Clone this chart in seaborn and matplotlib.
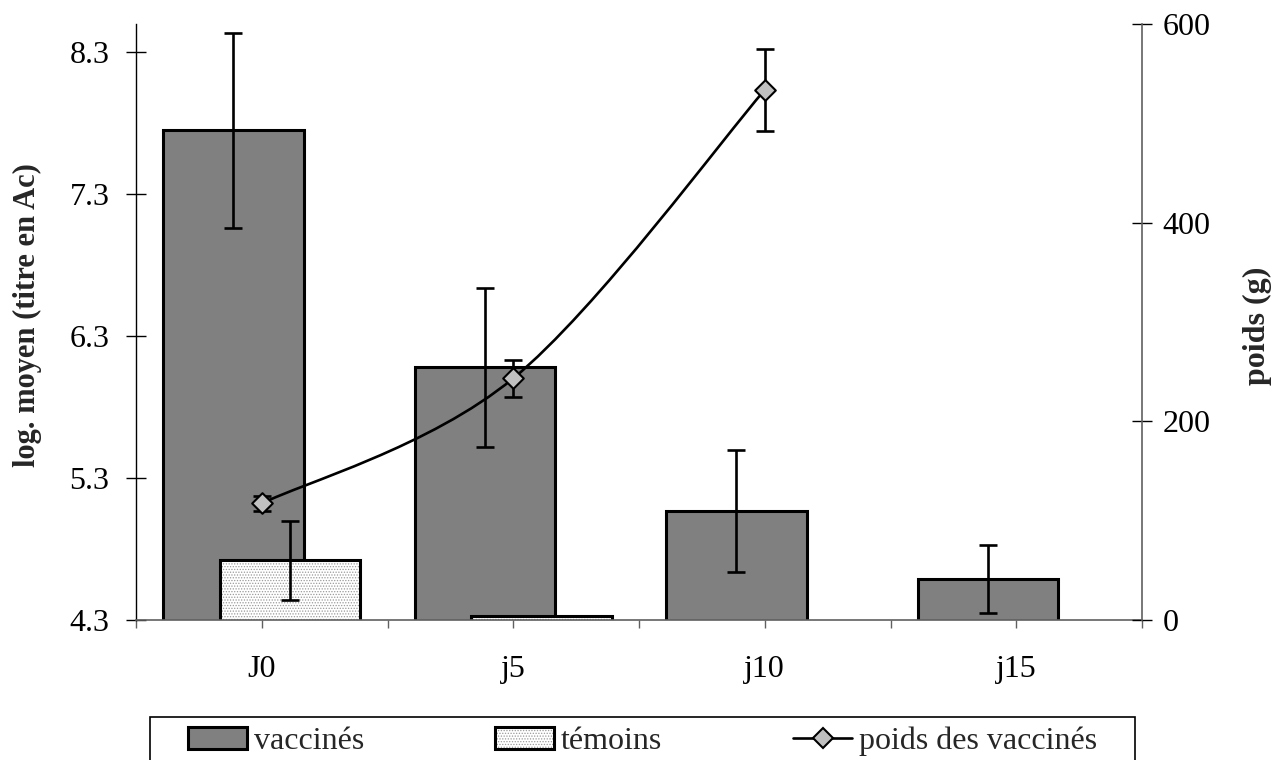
import numpy as np
import pandas as pd
import matplotlib
matplotlib.use("Agg")
import matplotlib.pyplot as plt
import seaborn as sns
from matplotlib.path import Path
from matplotlib.patches import PathPatch, Patch, Rectangle
from matplotlib.lines import Line2D

# ---------------- data ----------------
categories = ["J0", "j5", "j10", "j15"]
vaccines = [7.75, 6.08, 5.07, 4.59]
vaccines_err = [0.69, 0.56, 0.43, 0.24]
temoins = [4.72, 4.33, np.nan, np.nan]
temoins_err = [0.28, np.nan, np.nan, np.nan]
poids = [117.3, 243.3, 533.6]
poids_err = [8.0, 18.3, 41.3]
poids_cats = ["J0", "j5", "j10"]
left_ticks = [4.3, 5.3, 6.3, 7.3, 8.3]
right_ticks = [0, 200, 400, 600]
series_names = ["vaccinés", "témoins", "poids des vaccinés"]

# ---------------- style ----------------
sns.set_theme(style="white")
plt.rcParams["font.family"] = ["Liberation Serif", "DejaVu Serif"]
plt.rcParams["hatch.linewidth"] = 0.6
FS = 23
LFS = 22
HATCH = "......"
HATCH_COL = "#9a9a9a"

fig = plt.figure(figsize=(12.87, 7.6), dpi=100)
W, H = 1287, 760
ax = fig.add_axes([136 / W, (H - 620) / H, (1142 - 136) / W, (620 - 24) / H])

df = pd.DataFrame({
    "cat": categories * 2,
    "val": vaccines + temoins,
    "grp": [series_names[0]] * 4 + [series_names[1]] * 4,
})
df = df.dropna()

sns.barplot(data=df, x="cat", y="val", hue="grp", order=categories,
            hue_order=series_names[:2],
            palette={series_names[0]: "#808080", series_names[1]: "white"},
            width=0.452, gap=-1.47, dodge=True, errorbar=None,
            edgecolor="black", linewidth=2.2, saturation=1, legend=False, ax=ax)

# light dotted pattern for témoins: hatch in gray, then a black outline on top
for bar in ax.containers[1]:
    bar.set_hatch(HATCH)
    bar.set_edgecolor(HATCH_COL)
    bar.set_linewidth(0)
    outline = Rectangle(bar.get_xy(), bar.get_width(), bar.get_height(),
                        facecolor="none", edgecolor="black", linewidth=2.2,
                        zorder=bar.get_zorder() + 0.1)
    ax.add_patch(outline)

# error bars on bars
err_kw = dict(fmt="none", ecolor="black", elinewidth=1.9, capsize=6.5, capthick=1.9, zorder=5)
vx = [b.get_x() + b.get_width() / 2 for b in ax.containers[0]]
ax.errorbar(vx, vaccines, yerr=vaccines_err, **err_kw)
tx = [b.get_x() + b.get_width() / 2 for b in ax.containers[1]]
tv = [v for v in temoins if not np.isnan(v)]
te = [e for v, e in zip(temoins, temoins_err) if not np.isnan(v)]
mask = [not np.isnan(e) for e in te]
ax.errorbar([x for x, m in zip(tx, mask) if m], [v for v, m in zip(tv, mask) if m],
            yerr=[e for e, m in zip(te, mask) if m], **err_kw)

ax.set_xlim(-0.5, 3.5)
ax.set_ylim(4.3, 8.5)
ax.set_yticks(left_ticks)
ax.set_yticklabels([f"{t:.1f}" for t in left_ticks])
ax.set_xticks(range(len(categories)))
ax.set_xticklabels(categories)
ax.set_xticks(np.arange(-0.5, 3.6, 1.0), minor=True)
ax.set_xlabel("")
ax.set_ylabel("log. moyen (titre en Ac)", fontsize=LFS, fontweight="bold")
ax.yaxis.set_label_coords(-0.0934, 0.512)
ax.tick_params(axis="y", direction="inout", length=14, width=1, colors="black",
               labelsize=FS, pad=12, left=True)
ax.tick_params(axis="x", which="both", direction="out", length=6, width=1,
               color="#606060", labelcolor="black", labelsize=FS, pad=19, bottom=True)
ax.tick_params(axis="x", which="minor", length=6)
for s in ["top", "right"]:
    ax.spines[s].set_visible(False)
ax.spines["left"].set_color("black")
ax.spines["left"].set_linewidth(1)
ax.spines["bottom"].set_color("#606060")
ax.spines["bottom"].set_linewidth(1.2)

# ---------------- right axis: poids ----------------
ax2 = ax.twinx()
ax2.set_ylim(0, 600)
ax2.set_yticks(right_ticks)
ax2.set_yticklabels([str(t) for t in right_ticks])
ax2.set_ylabel("poids (g)", fontsize=LFS + 1, fontweight="bold", rotation=90)
ax2.yaxis.set_label_coords(1.100, 0.493)
ax2.tick_params(axis="y", direction="inout", length=14, width=1, colors="black",
                labelsize=FS, pad=8, right=True)
for s in ["top", "left", "bottom"]:
    ax2.spines[s].set_visible(False)
ax2.spines["right"].set_color("#606060")
ax2.spines["right"].set_linewidth(1.2)

px = np.array([categories.index(c) for c in poids_cats], dtype=float)
py = np.array(poids, dtype=float)
# smoothed line (Catmull-Rom -> cubic Bezier) through the data points
pts = np.column_stack([px, py])
ext = np.vstack([pts[0], pts, pts[-1]])
verts = [tuple(pts[0])]
codes = [Path.MOVETO]
for i in range(1, len(ext) - 2):
    p0, p1, p2, p3 = ext[i - 1], ext[i], ext[i + 1], ext[i + 2]
    c1 = p1 + (p2 - p0) / 6.0
    c2 = p2 - (p3 - p1) / 6.0
    verts += [tuple(c1), tuple(c2), tuple(p2)]
    codes += [Path.CURVE4] * 3
ax2.add_patch(PathPatch(Path(verts, codes), facecolor="none", edgecolor="black",
                        linewidth=1.9, zorder=3))
ax2.errorbar(px, py, yerr=poids_err, **err_kw)
sns.scatterplot(x=px, y=py, marker="D", s=10.5 ** 2, color="#c0c0c0",
                edgecolor="black", linewidth=1.5, zorder=6, ax=ax2, legend=False)
ax2.set_xlim(-0.5, 3.5)

# ---------------- legend ----------------
fig.add_artist(Rectangle((150 / W, -0.05), (1135 - 150) / W, (H - 716.7) / H + 0.05,
                         transform=fig.transFigure, facecolor="white",
                         edgecolor="black", linewidth=1.2))
hatch_handle = Patch(facecolor="white", edgecolor=HATCH_COL, linewidth=0, hatch=HATCH)
hatch_outline = Patch(facecolor="none", edgecolor="black", linewidth=2.2)
handles = [
    Patch(facecolor="#808080", edgecolor="black", linewidth=2.2),
    (hatch_handle, hatch_outline),
    Line2D([0], [0], color="black", linewidth=1.9, marker="D", markersize=10.5,
           markerfacecolor="#c0c0c0", markeredgecolor="black", markeredgewidth=1.5),
]
leg = fig.legend(handles, series_names, loc="upper left", ncol=3, mode="expand",
                 bbox_to_anchor=(178 / W, (H - 716.7) / H, (1107 - 178) / W, 0),
                 frameon=False, fontsize=FS, handlelength=1.85, handleheight=0.66,
                 handletextpad=0.2, borderpad=0.32, borderaxespad=0)

fig.savefig("out.png", dpi=100)
